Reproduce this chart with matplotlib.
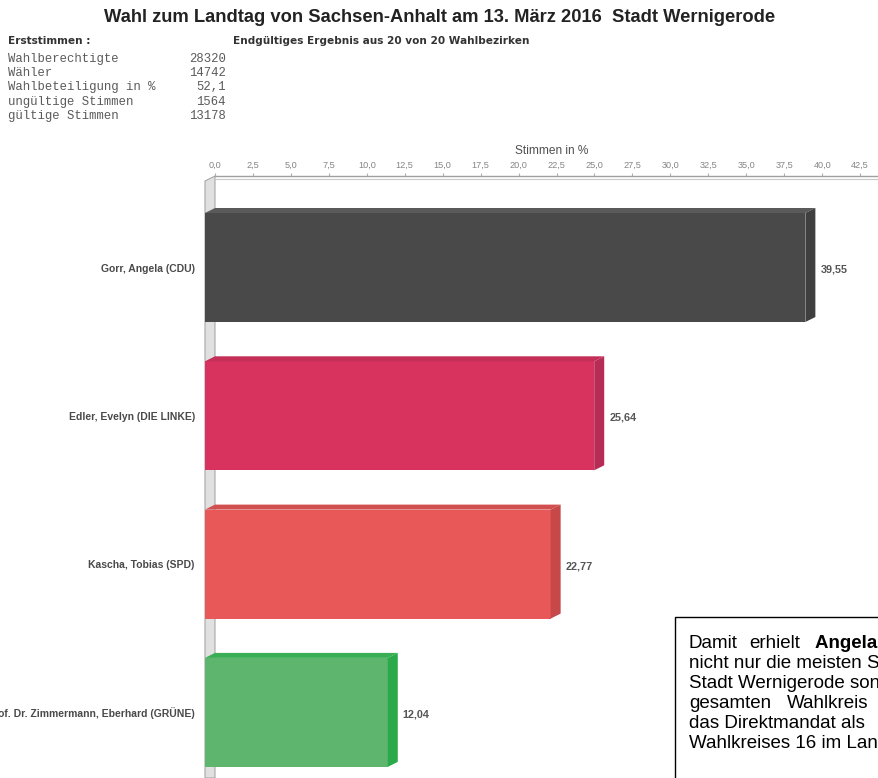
import numpy as np
import matplotlib as mpl
import matplotlib.pyplot as plt
from matplotlib.patches import Polygon, Rectangle

mpl.rcParams["font.family"] = ["Liberation Sans", "DejaVu Sans"]

# data
kandidaten = ["Gorr, Angela (CDU)", "Edler, Evelyn (DIE LINKE)",
              "Kascha, Tobias (SPD)", "Prof. Dr. Zimmermann, Eberhard (GRÜNE)"]
prozent = [39.55, 25.64, 22.77, 12.04]
front_col = ["#494949", "#d8335f", "#e85858", "#5db56e"]
top_col = ["#5a5a5a", "#c42f58", "#d24f4f", "#3aae55"]
side_col = ["#3f3f3f", "#b52d55", "#c64848", "#2aaa4a"]

stat_namen = ["Wahlberechtigte", "Wähler", "Wahlbeteiligung in %",
              "ungültige Stimmen", "gültige Stimmen"]
stat_werte = ["28320", "14742", "52,1", "1564", "13178"]

ticks = np.arange(0, 43, 2.5)

text_zeilen = ["nicht nur die meisten Stimmen",
               "Stadt Wernigerode sondern",
               None,
               "das Direktmandat als",
               "Wahlkreises 16 im Landtag."]

W, H = 879, 778
def fx(p):
    return p / W
def fy(p):
    return 1 - p / H

fig = plt.figure(figsize=(W / 100, H / 100), dpi=100)

# axes: back plane starts at x=215px, top frame at y=176px
xs = 15.18  # px per %
ys = 148.3  # px per bar
ax = fig.add_axes([fx(215), 0, 1 - fx(215), fy(176)])
ax.set_xlim(0, (W - 215) / xs)
ytop = (176 - 267.5) / ys
ybot = (H - 267.5) / ys
ax.set_ylim(ybot, ytop)

dx = 10 / xs
dy = 5 / ys
h = 109 / ys
pos = np.arange(len(prozent))

# left wall
wall = Polygon([(0, ytop), (-dx, ytop + dy), (-dx, ybot), (0, ybot)],
               closed=True, facecolor="#e0e0e0", edgecolor="#a8a8a8",
               lw=0.8, clip_on=False, zorder=1)
ax.add_patch(wall)

ax.barh(pos, prozent, left=-dx, height=h, color=front_col, clip_on=False, zorder=3)
for i, v in enumerate(prozent):
    yt = pos[i] - h / 2
    yb = pos[i] + h / 2
    ax.add_patch(Polygon([(-dx, yt), (0, yt - dy), (v, yt - dy), (v - dx, yt)],
                         closed=True, facecolor=top_col[i], lw=0, clip_on=False, zorder=3))
    ax.add_patch(Polygon([(v - dx, yt), (v, yt - dy), (v, yb - dy), (v - dx, yb)],
                         closed=True, facecolor=side_col[i], lw=0, clip_on=False, zorder=3))
    ax.text(v + 5 / xs, pos[i] + 2 / ys, ("%.2f" % v).replace(".", ","),
            ha="left", va="center", fontsize=7.8, fontweight="bold", color="#555555")

ax.set_yticks(pos, kandidaten)
ax.tick_params(axis="y", length=0, pad=14.5, labelsize=7.5, labelcolor="#4a4a4a")
for t in ax.get_yticklabels():
    t.set_fontweight("bold")

ax.xaxis.tick_top()
ax.set_xticks(ticks, [("%.1f" % t).replace(".", ",") for t in ticks])
ax.tick_params(axis="x", length=2, color="#b0b0b0", pad=2.5, labelsize=6.6, labelcolor="#858585")

for s in ["left", "right", "bottom"]:
    ax.spines[s].set_visible(False)
ax.spines["top"].set_color("#a0a0a0")
ax.spines["top"].set_linewidth(1.0)
ax.axhline(ytop + 3 / ys, color="#c8c8c8", lw=0.8, zorder=2)

fig.text(fx(552), fy(151), "Stimmen in %", ha="center", va="center",
         fontsize=8.6, color="#505050")

# header
fig.text(fx(440), fy(18), "Wahl zum Landtag von Sachsen-Anhalt am 13. März 2016  Stadt Wernigerode",
         ha="center", va="center", fontsize=13.2, fontweight="bold", color="#222222")
fig.text(fx(8), fy(41), "Erststimmen :", ha="left", va="center", fontsize=7.6,
         fontweight="bold", family="DejaVu Sans", color="#333333")
fig.text(fx(233), fy(41), "Endgültiges Ergebnis aus 20 von 20 Wahlbezirken", ha="left",
         va="center", fontsize=7.6, fontweight="bold", family="DejaVu Sans", color="#333333")
for k, (n, w) in enumerate(zip(stat_namen, stat_werte)):
    yy = fy(59 + 14.2 * k)
    fig.text(fx(8), yy, n, ha="left", va="center", fontsize=8.8,
             family="Liberation Mono", color="#5a5a5a")
    fig.text(fx(226), yy, w, ha="right", va="center", fontsize=8.8,
             family="Liberation Mono", color="#5a5a5a")

# textbox
fig.patches.append(Rectangle((fx(675), -0.05), 0.5, fy(617) + 0.05, transform=fig.transFigure,
                             fill=False, edgecolor="black", lw=1.0))
y0 = 643
dz = 20
fs = 13.5
fig.text(fx(689), fy(y0), "Damit", ha="left", va="center", fontsize=fs)
fig.text(fx(749), fy(y0), "erhielt", ha="left", va="center", fontsize=fs)
fig.text(fx(815), fy(y0), "Angela Gorr", ha="left", va="center", fontsize=fs, fontweight="bold")
for k, z in enumerate(text_zeilen):
    yy = fy(y0 + dz * (k + 1))
    if z is None:
        fig.text(fx(689), yy, "gesamten", ha="left", va="center", fontsize=fs)
        fig.text(fx(787), yy, "Wahlkreis", ha="left", va="center", fontsize=fs)
    else:
        fig.text(fx(689), yy, z, ha="left", va="center", fontsize=fs)

fig.savefig("out.png", dpi=100)
